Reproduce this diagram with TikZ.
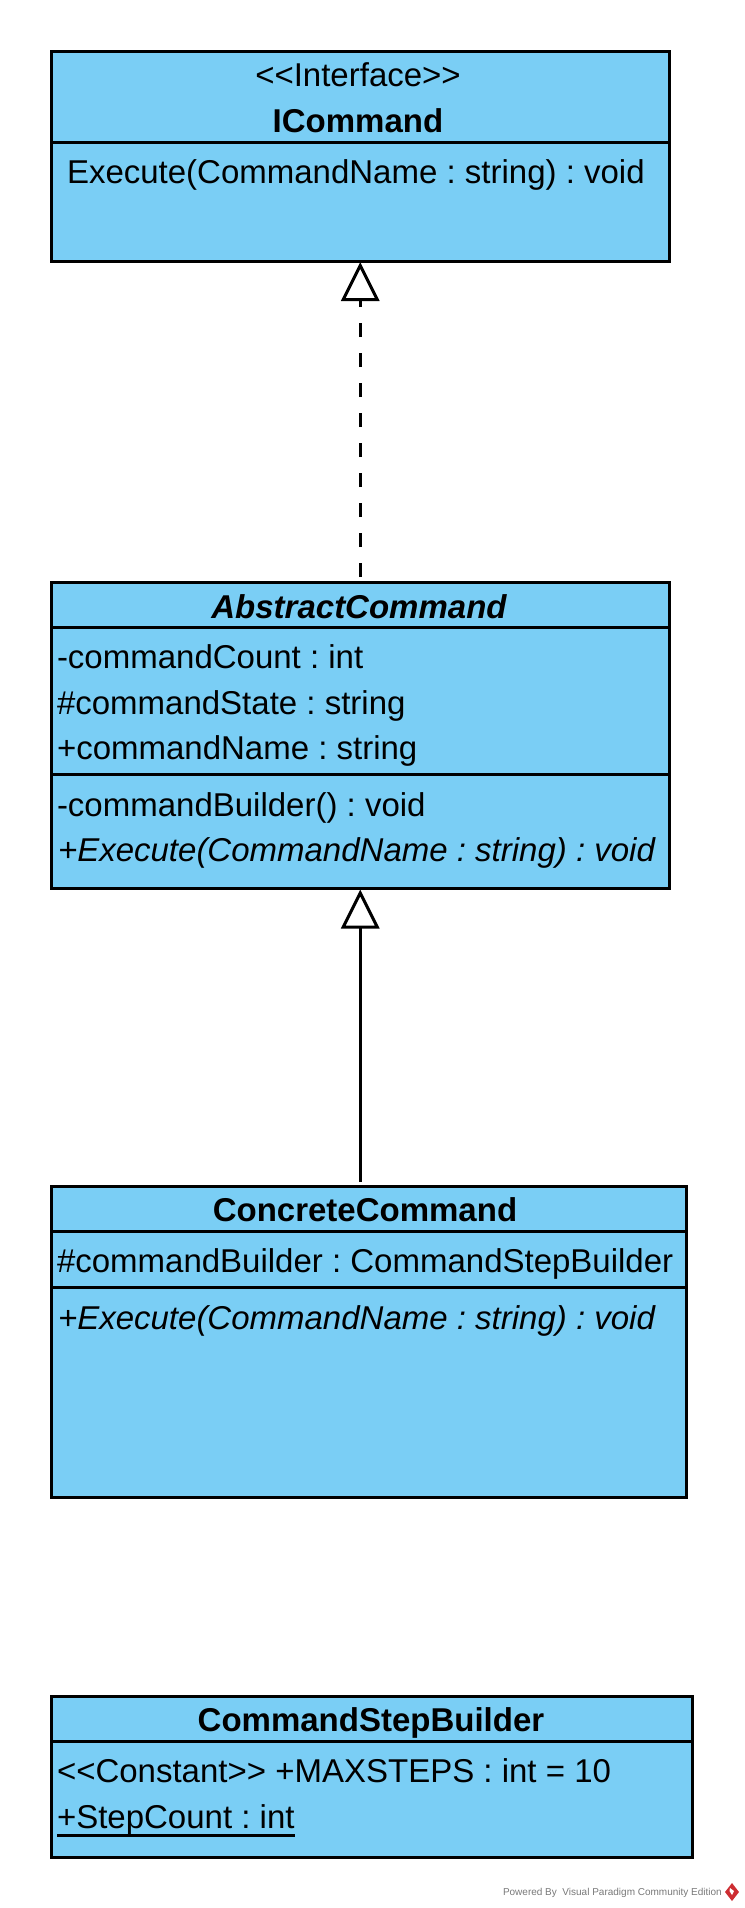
\documentclass[tikz,border=0pt]{standalone}
\usepackage{fontspec}
\defaultfontfeatures{Ligatures=NoCommon}
\setmainfont[Ligatures=NoCommon]{Liberation Sans}
\usetikzlibrary{arrows.meta,calc}
\definecolor{umlfill}{RGB}{122,206,245}
\definecolor{footgray}{RGB}{120,120,120}
\definecolor{logored}{RGB}{205,45,50}
\newcommand{\umlsize}{\fontsize{33}{33}\selectfont\frenchspacing}
\tikzset{
  comp/.style={draw=black,fill=umlfill,line width=3pt,anchor=north west,inner sep=0pt,outer sep=0pt},
  label/.style={inner sep=0pt,outer sep=0pt,anchor=base west,font=\umlsize},
  title/.style={inner sep=0pt,outer sep=0pt,anchor=base,font=\umlsize},
  inherit/.style={line width=3pt,-{Triangle[open,fill=white,length=39pt,width=38pt,line width=3pt]},shorten >=1pt},
  realize/.style={inherit,dash pattern=on 14pt off 16pt}
}
\newcommand{\compbox}[5]{\node[comp,minimum width=#4pt-#2pt,minimum height=#5pt-#3pt] (#1) at (#2,#3) {};}
\begin{document}
\begin{tikzpicture}[x=1pt,y=-1pt]
\useasboundingbox (0,0) rectangle (744,1908);
% ICommand
\compbox{ihead}{51}{51.5}{669.5}{142.5}
\compbox{ibody}{51}{142.5}{669.5}{261}
\node[title] (i1) at (358,86.2) {{<}{<}Interface{>}{>}};
\node[title,font=\umlsize\bfseries] (i2) at (358,132.2) {ICommand};
\node[label] (i3) at (67,183.2) {Execute(CommandName : string) : void};
% AbstractCommand
\compbox{ahead}{51}{582.5}{669.5}{627.5}
\compbox{aattr}{51}{627.5}{669.5}{774}
\compbox{aoper}{51}{774}{669.5}{888.5}
\node[title,font=\umlsize\bfseries\itshape] (a1) at (359,618.7) {AbstractCommand};
\node[label] (a2) at (57,668.7) {-commandCount : int};
\node[label] (a3) at (57,714.2) {\#commandState : string};
\node[label] (a4) at (57,759.2) {+commandName : string};
\node[label] (a5) at (57,816.7) {-commandBuilder() : void};
\node[label,font=\umlsize\itshape] (a6) at (58,861.2) {+Execute(CommandName : string) : void};
% ConcreteCommand
\compbox{chead}{51}{1186}{686.5}{1231}
\compbox{cattr}{51}{1231}{686.5}{1287}
\compbox{coper}{51}{1287}{686.5}{1497.5}
\node[title,font=\umlsize\bfseries] (c1) at (365,1221.2) {ConcreteCommand};
\node[label] (c2) at (57,1272.2) {\#commandBuilder : CommandStepBuilder};
\node[label,font=\umlsize\itshape] (c3) at (58,1329.2) {+Execute(CommandName : string) : void};
% CommandStepBuilder
\compbox{shead}{51}{1696}{692.5}{1741}
\compbox{sattr}{51}{1741}{692.5}{1857.5}
\node[title,font=\umlsize\bfseries] (s1) at (371,1731.2) {CommandStepBuilder};
\node[label] (s2) at (57,1782.2) {{<}{<}Constant{>}{>} +MAXSTEPS : int = 10};
\node[label] (s3) at (57,1828.2) {+StepCount : int};
\draw[line width=2.6pt] ([yshift=-7pt]s3.base west) -- ([yshift=-7pt]s3.base east);
% connectors
\draw[realize] ([yshift=5.5pt]ahead.north) -- (ibody.south);
\coordinate (cfoot) at ($(aoper.south)+(0,293)$);
\draw[inherit] (cfoot) -- (aoper.south);
% footer
\node[inner sep=0pt,anchor=base east,text=footgray,font=\fontsize{10}{10}\selectfont] (foot) at (722,1895) {Powered By\ \ Visual Paradigm Community Edition};
\fill[logored] (732,1883) -- (739,1892) -- (732,1901) -- (725,1892) -- cycle;
\fill[white] (730,1888) -- (734,1891) -- (732,1895) -- (729.5,1891) -- cycle;
\end{tikzpicture}
\end{document}
